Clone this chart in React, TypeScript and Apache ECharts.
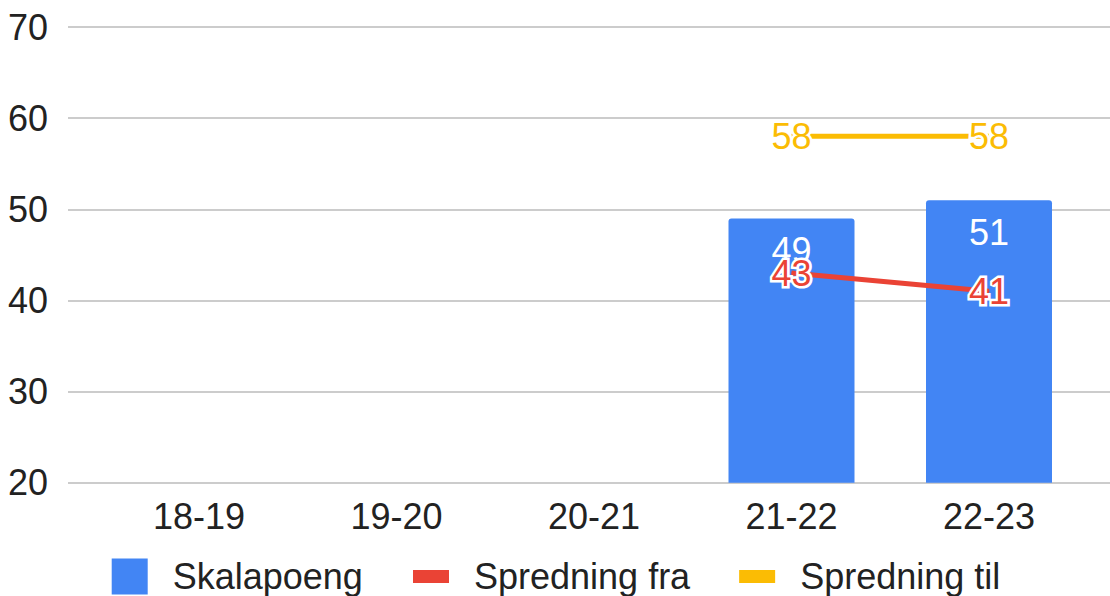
import React, { useEffect, useRef } from "react";
import * as echarts from "echarts";

const categories = ["18-19", "19-20", "20-21", "21-22", "22-23"];
const skalapoeng = ["-", "-", "-", 49, 51];
const spredningFra = ["-", "-", "-", 43, 41];
const spredningTil = ["-", "-", "-", 58, 58];
const yMin = 20;
const yMax = 70;
const yInterval = 10;

const FONT = 'Arial, "Liberation Sans", sans-serif';
const BLUE = "#4285F4";
const RED = "#EA4335";
const YELLOW = "#FBBC04";
const TEXT = "#222222";

export default function App() {
  const ref = useRef<HTMLDivElement>(null);
  useEffect(() => {
    if (!ref.current) return;
    const chart = echarts.init(ref.current, undefined, { renderer: "svg" });
    const gridTop = 27;
    const gridBottom = 113.3;
    chart.setOption({
      animation: false,
      textStyle: { fontFamily: FONT },
      grid: [
        { left: 68, right: 0, top: gridTop, bottom: gridBottom },
        { left: 100.25, right: 22.25, top: gridTop, bottom: gridBottom },
      ],
      xAxis: [
        { gridIndex: 0, type: "value", min: 0, max: 1, show: false },
        {
          gridIndex: 1,
          type: "category",
          data: categories,
          axisLine: { show: false },
          axisTick: { show: false },
          axisLabel: { fontSize: 36, color: TEXT, margin: 16, fontFamily: FONT },
        },
      ],
      yAxis: [
        {
          gridIndex: 0,
          type: "value",
          min: yMin,
          max: yMax,
          interval: yInterval,
          axisLine: { show: false },
          axisTick: { show: false },
          axisLabel: { fontSize: 36, color: TEXT, margin: 20, fontFamily: FONT },
          splitLine: { lineStyle: { color: "#cccccc", width: 2 } },
        },
        {
          gridIndex: 1,
          type: "value",
          min: yMin,
          max: yMax,
          interval: yInterval,
          show: false,
          splitLine: { show: false },
        },
      ],
      legend: [
        {
          data: ["Skalapoeng"],
          left: 111.7,
          top: 558.5,
          padding: 0,
          icon: "rect",
          itemWidth: 36,
          itemHeight: 36,
          textStyle: { fontSize: 36, color: TEXT, fontFamily: FONT, padding: [0, 0, 0, 20] },
        },
        {
          data: ["Spredning fra", "Spredning til"],
          left: 413,
          top: 558.5,
          padding: 0,
          icon: "rect",
          itemWidth: 36,
          itemHeight: 13,
          itemGap: 49,
          textStyle: { fontSize: 36, color: TEXT, fontFamily: FONT, padding: [0, 0, 0, 20] },
        },
      ],
      series: [
        {
          name: "Skalapoeng",
          type: "bar",
          xAxisIndex: 1,
          yAxisIndex: 1,
          data: skalapoeng,
          barWidth: 126,
          itemStyle: { color: BLUE, borderRadius: [3, 3, 0, 0] },
          label: {
            show: true,
            position: "insideTop",
            distance: 14,
            color: "#ffffff",
            fontSize: 36,
            fontFamily: FONT,
          },
          z: 2,
        },
        {
          name: "Spredning fra",
          type: "line",
          xAxisIndex: 1,
          yAxisIndex: 1,
          data: spredningFra,
          color: RED,
          symbol: "circle",
          symbolSize: 1,
          lineStyle: { color: RED, width: 5 },
          itemStyle: { color: RED },
          label: {
            show: true,
            position: "inside",
            color: RED,
            fontSize: 36,
            fontFamily: FONT,
            textBorderColor: "#ffffff",
            textBorderWidth: 5,
          },
          z: 4,
        },
        {
          name: "Spredning til",
          type: "line",
          xAxisIndex: 1,
          yAxisIndex: 1,
          data: spredningTil,
          color: YELLOW,
          symbol: "circle",
          symbolSize: 1,
          lineStyle: { color: YELLOW, width: 5 },
          itemStyle: { color: YELLOW },
          label: {
            show: true,
            position: "inside",
            color: YELLOW,
            fontSize: 36,
            fontFamily: FONT,
            textBorderColor: "#ffffff",
            textBorderWidth: 5,
          },
          z: 4,
        },
      ],
    });
    return () => chart.dispose();
  }, []);
  return (
    <div
      ref={ref}
      style={{ position: "absolute", left: 0, top: 0, width: 1110, height: 596 }}
    />
  );
}
